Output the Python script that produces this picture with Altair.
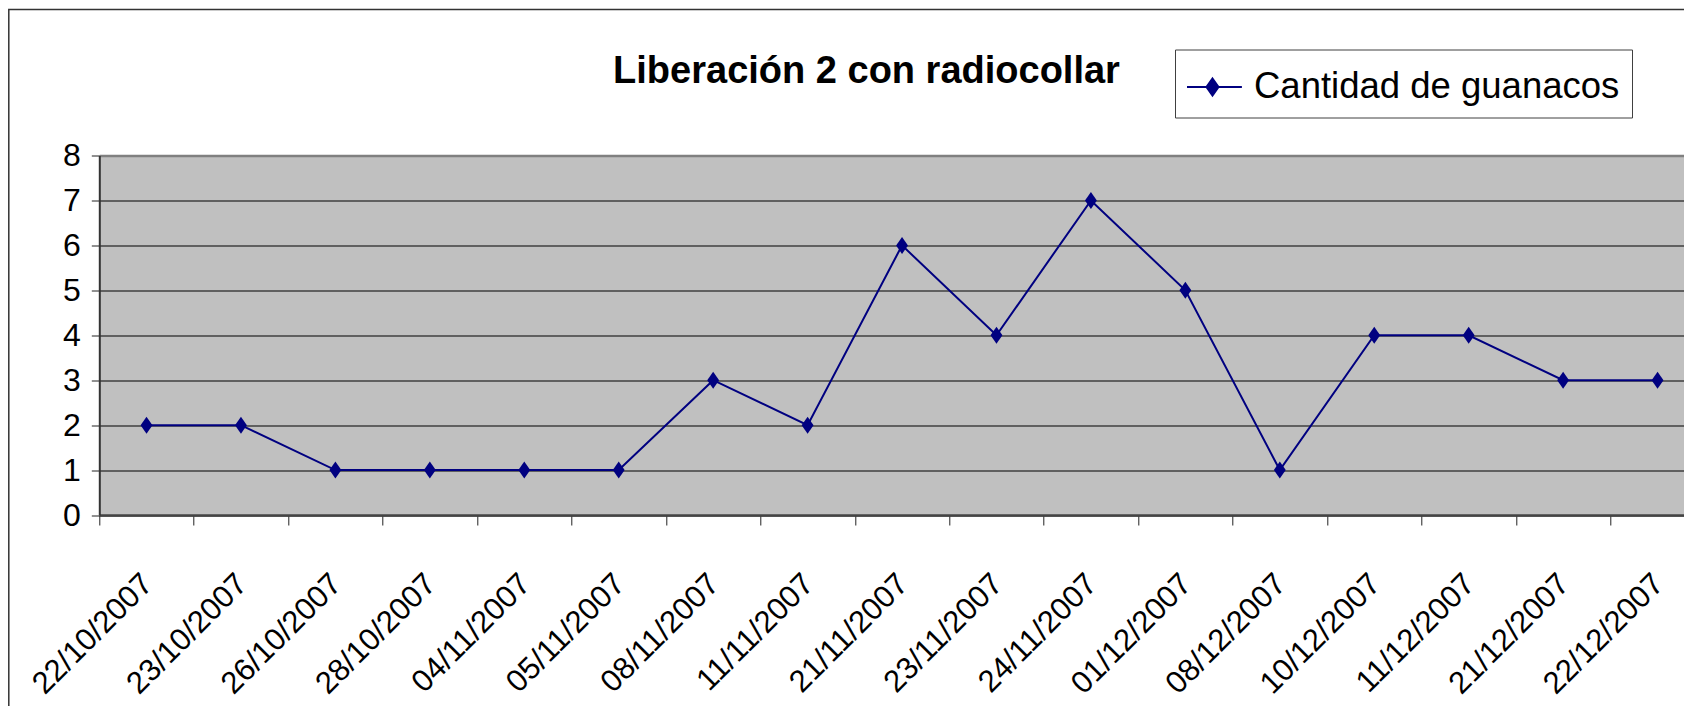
import altair as alt
import pandas as pd

fechas = ["22/10/2007", "23/10/2007", "26/10/2007", "28/10/2007", "04/11/2007",
          "05/11/2007", "08/11/2007", "11/11/2007", "21/11/2007", "23/11/2007",
          "24/11/2007", "01/12/2007", "08/12/2007", "10/12/2007", "11/12/2007",
          "21/12/2007", "22/12/2007"]
cantidad = [2, 2, 1, 1, 1, 1, 3, 2, 6, 4, 7, 5, 1, 4, 4, 3, 3]
serie = "Cantidad de guanacos"
titulo = "Liberación 2 con radiocollar"
y_ticks = [0, 1, 2, 3, 4, 5, 6, 7, 8]

df = pd.DataFrame({"fecha": fechas, "cantidad": cantidad, "serie": [serie] * len(fechas)})

NAVY = "#000080"
FONT = "Liberation Sans"

TOTAL_W = 1676
TOTAL_H = 698
PAD_L, PAD_T = 91.3, 147.5
PLOT_W = TOTAL_W - PAD_L
PLOT_H = 359.5
STEP = 94.44

diamond = "M0,-1L0.7,0L0,1L-0.7,0Z"
legend_sym = "M-1.04,0H1.2M0,-0.347L0.245,0L0,0.347L-0.245,0Z"

x_enc = alt.X(
    "fecha:N",
    sort=fechas,
    scale=alt.Scale(domain=fechas, range=[0, STEP * len(fechas)], paddingInner=0, paddingOuter=0),
    axis=alt.Axis(
        title=None,
        tickBand="extent",
        ticks=True,
        tickSize=10,
        tickColor="#222222",
        tickWidth=1,
        domainColor="#444444",
        domainWidth=2.5,
        labelAngle=-45,
        labelAlign="right",
        labelBaseline="middle",
        labelPadding=54,
        labelOffset=1,
        labelFont=FONT,
        labelFontSize=31,
        labelColor="#000000",
        labelOverlap=False,
        labelBound=False,
        labelFlush=False,
        grid=False,
    ),
)

y_enc = alt.Y(
    "cantidad:Q",
    scale=alt.Scale(domain=[0, 8], nice=False, zero=True),
    axis=alt.Axis(
        title=None,
        values=y_ticks,
        tickSize=8,
        tickColor="#222222",
        domainColor="#333333",
        domainWidth=2,
        labelPadding=11,
        labelFont=FONT,
        labelFontSize=32,
        labelColor="#000000",
        labelBaseline="middle",
        grid=True,
        gridColor={"condition": {"test": "datum.value === 8", "value": "#808080"}, "value": "#000000"},
        gridWidth={"condition": {"test": "datum.value === 8", "value": 2.5}, "value": 1},
    ),
)

color_enc = alt.Color(
    "serie:N",
    scale=alt.Scale(domain=[serie], range=[NAVY]),
    legend=alt.Legend(
        title=None,
        orient="none",
        legendX=1075.7,
        legendY=-106,
        symbolType=legend_sym,
        symbolSize=2401,
        symbolStrokeWidth=2,
        symbolFillColor=NAVY,
        symbolStrokeColor=NAVY,
        labelFont=FONT,
        labelFontSize=36.5,
        labelColor="#000000",
        labelOffset=16,
        labelLimit=1000,
        padding=12,
        strokeColor="#404040",
        fillColor="#FFFFFF",
    ),
)

base = alt.Chart(df)

line = base.mark_line(strokeWidth=2, color=NAVY).encode(x=x_enc, y=y_enc, color=color_enc)
points = base.mark_point(shape=diamond, size=289, filled=True, opacity=1, color=NAVY).encode(
    x=x_enc, y=y_enc, color=color_enc
)

frame = alt.Chart(alt.Data(values=[{}])).mark_rect(
    filled=False, stroke="#333333", strokeWidth=1.5
).encode(
    x=alt.value(-PAD_L + 0.8),
    x2=alt.value(PLOT_W + 50),
    y=alt.value(-PAD_T + 1.5),
    y2=alt.value(TOTAL_H + 50),
)

title_mark = alt.Chart(alt.Data(values=[{"t": titulo}])).mark_text(
    font=FONT, fontSize=38, fontWeight="bold", color="#000000",
    align="center", baseline="alphabetic",
).encode(
    text="t:N",
    x=alt.value(767.2),
    y=alt.value(-72.8),
)

chart = alt.layer(frame, line, points, title_mark).properties(
    width=PLOT_W,
    height=PLOT_H,
    padding={"left": PAD_L, "top": PAD_T, "right": 0, "bottom": TOTAL_H - PAD_T - PLOT_H},
    autosize=alt.AutoSizeParams(type="none"),
    background="#FFFFFF",
).configure_view(
    fill="#C0C0C0",
    strokeWidth=0,
)

chart.save("out.html", embed_options={"renderer": "svg", "actions": False})
